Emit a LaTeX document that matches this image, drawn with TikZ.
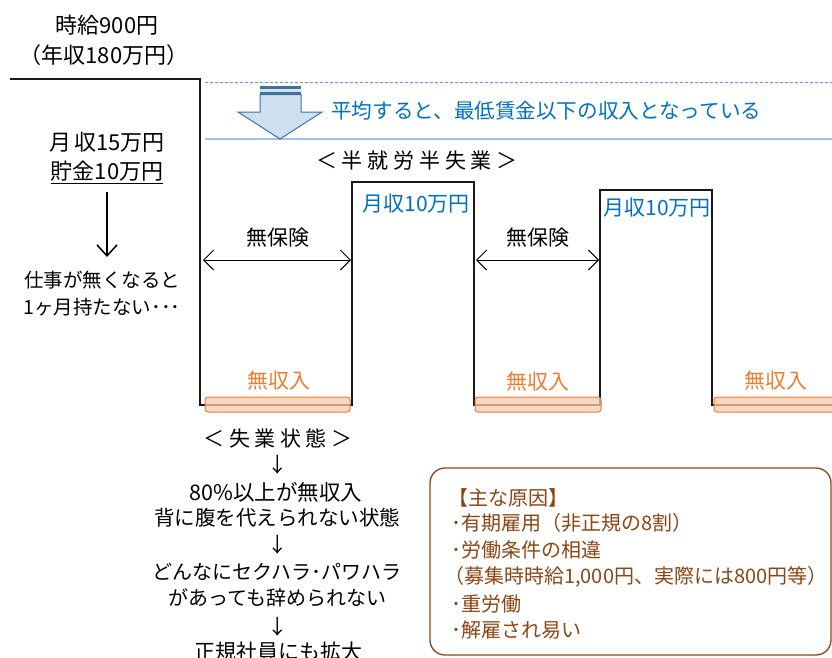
\documentclass[tikz,border=0pt]{standalone}
\usepackage{fontspec}
\setmainfont{Noto Sans CJK JP}
\usetikzlibrary{arrows.meta}
\definecolor{tblue}{RGB}{0,112,192}
\definecolor{torange}{RGB}{237,125,49}
\definecolor{tofill}{RGB}{248,203,173}
\definecolor{tbrown}{RGB}{140,70,20}
\definecolor{lineblue}{RGB}{91,155,213}
\definecolor{lightline}{RGB}{157,195,230}
\definecolor{arrfill}{RGB}{207,224,241}
\definecolor{arrdraw}{RGB}{65,113,156}
\newcommand{\ls}{\hspace{4.8pt}}
\newcommand{\lsb}{\hspace{4.5pt}}
\tikzset{
  txt/.style={inner sep=0pt, text=black, font=\fontsize{20.5}{24}\selectfont},
  big/.style={txt, font=\fontsize{22}{26}\selectfont},
  bluet/.style={txt, text=tblue, font=\fontsize{20.6}{24}\selectfont},
  oranget/.style={txt, text=torange, font=\fontsize{21}{24}\selectfont},
  brownt/.style={txt, anchor=west, text=tbrown, font=\fontsize{20}{24}\selectfont},
  stepline/.style={line width=1.5pt, draw=black!90},
  obar/.style={draw=torange, fill=tofill, fill opacity=0.75, line width=1pt, rounded corners=3pt},
  dblarrow/.style={line width=1pt, {Straight Barb[length=10pt,width=20pt]}-{Straight Barb[length=10pt,width=20pt]}},
  downarrow/.style={line width=1.5pt, -{Straight Barb[length=11pt,width=20pt]}}
}
\begin{document}
\begin{tikzpicture}[x=1pt,y=-1pt]
\useasboundingbox (0,0) rectangle (832,657);
\clip (0,0) rectangle (832,657);

% guide lines
\draw[lineblue, line width=1pt, dash pattern=on 3pt off 2pt] (205,82) -- (832,82);
\draw[lightline, line width=1.2pt] (205,139) -- (832,139);

% block arrow
\fill[arrdraw] (260,86) rectangle (301,89);
\fill[arrfill] (260,89) rectangle (301,92);
\fill[arrdraw] (260,92) rectangle (301,94.5);
\draw[arrdraw, fill=arrfill, line width=1pt] (260,94.5) -- (301,94.5) -- (301,112) -- (322,112) -- (280,139) -- (238,112) -- (260,112) -- cycle;
\node[bluet, anchor=west] (avg) at (331,111) {平均すると、最低賃金以下の収入となっている};

% income step line
\draw[stepline] (10,79) -- (200,79) -- (200,405) -- (352,405) -- (352,182) -- (474,182) -- (474,405) -- (600,405) -- (600,190) -- (712,190) -- (712,405) -- (832,405);

% no-income bars
\draw[obar] (205,397) rectangle (350,412);
\draw[obar] (475,397) rectangle (601,412);
\draw[obar] (714,397) rectangle (840,412);
\node[oranget] (ni1) at (279,381) {無収入};
\node[oranget] (ni2) at (538,382) {無収入};
\node[oranget] (ni3) at (776,381) {無収入};

% income labels
\node[bluet, font=\fontsize{21}{24}\selectfont] (inc1) at (416,204) {月収10万円};
\node[bluet, font=\fontsize{21}{24}\selectfont] (inc2) at (657,208) {月収10万円};

% no insurance
\coordinate (a1) at (203,260);
\coordinate (b1) at (351,260);
\coordinate (a2) at (476,260);
\coordinate (b2) at (599,260);
\draw[dblarrow] (a1) -- (b1);
\draw[dblarrow] (a2) -- (b2);
\node[txt, font=\fontsize{21}{24}\selectfont] (ins1) at (278,238) {無保険};
\node[txt, font=\fontsize{21}{24}\selectfont] (ins2) at (538,238) {無保険};

% heading
\node[txt, font=\fontsize{21}{24}\selectfont] (semi) at (417,161) {＜\ls 半\ls 就\ls 労\ls 半\ls 失\ls 業\ls ＞};

% left column
\node[big] (hourly) at (107,25) {時給900円};
\node[big] (annual) at (104,55) {（年収180万円）};
\node[big] (monthly) at (107,142) {月\hspace{3pt}収15万円};
\node[big] (savings) at (107,171) {貯金10万円};
\draw[line width=1.2pt] ([yshift=-2.5pt]savings.south west) -- ([yshift=-2.5pt]savings.south east);
\node[txt, font=\fontsize{19.5}{24}\selectfont] (nowork) at (102,280) {仕事が無くなると};
\node[txt, font=\fontsize{19.5}{24}\selectfont] (month1) at (102,307) {1ヶ月持たない･･･};
\coordinate (arrtop) at (107,192);
\coordinate (arrbot) at (107,257);
\draw[downarrow] (arrtop) -- (arrbot);

% unemployment column
\node[txt, font=\fontsize{21}{24}\selectfont] (unemp) at (278,438) {＜\lsb 失\lsb 業\lsb 状\lsb 態\lsb ＞};
\node[txt] (d1) at (278,465) {↓};
\node[txt, font=\fontsize{21.5}{24}\selectfont] (u1) at (276,492) {80\%以上が無収入};
\node[txt] (u2) at (277,518) {背に腹を代えられない状態};
\node[txt] (d2) at (278,545) {↓};
\node[txt, font=\fontsize{20}{24}\selectfont] (u3) at (277,572) {どんなにセクハラ･パワハラ};
\node[txt, font=\fontsize{20}{24}\selectfont] (u4) at (277,598) {があっても辞められない};
\node[txt] (d3) at (278,627) {↓};
\node[txt, font=\fontsize{21}{24}\selectfont] (u5) at (278,652) {正規社員にも拡大};

% causes box
\draw[tbrown, line width=1.3pt, rounded corners=15pt] (430,468) rectangle (831,655);
\node[brownt] (c0) at (448,498) {【主な原因】};
\node[brownt] (c1) at (451,523) {･有期雇用（非正規の8割）};
\node[brownt] (c2) at (451,550) {･労働条件の相違};
\node[brownt] (c3) at (444,577) {（募集時時給1,000円、実際には800円等）};
\node[brownt] (c4) at (451,604) {･重労働};
\node[brownt] (c5) at (451,630) {･解雇され易い};
\end{tikzpicture}
\end{document}
